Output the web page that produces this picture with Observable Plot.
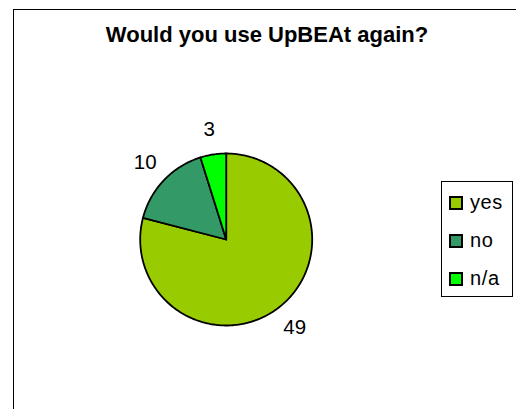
<!DOCTYPE html>
<html><head><meta charset="utf-8">
<script src="https://cdn.jsdelivr.net/npm/d3@7"></script>
<script src="https://cdn.jsdelivr.net/npm/@observablehq/plot@0.6"></script>
<style>
html,body{margin:0;padding:0;background:#fff;overflow:hidden;}
#wrap{position:relative;width:516px;height:409px;font-family:"Liberation Sans",Arial,sans-serif;}
#frame{position:absolute;left:13px;top:9px;width:600px;height:500px;border:1px solid #000;box-sizing:border-box;}
#title{position:absolute;left:0;width:534px;top:22px;text-align:center;font-weight:bold;font-size:22px;line-height:26px;color:#000;}
#chart{position:absolute;left:0;top:0;}
#legend{position:absolute;left:441px;top:181px;width:72px;height:116px;border:1px solid #000;box-sizing:border-box;background:#fff;}
.item{position:absolute;left:7px;height:20px;font-size:20px;line-height:20px;color:#000;letter-spacing:0.6px;}
.sw{position:absolute;left:0;top:3px;width:14px;height:14px;border:2px solid #000;box-sizing:border-box;}
.lab{position:absolute;left:21px;top:-1px;white-space:nowrap;}
</style></head>
<body><div id="wrap"><div id="frame"></div><div id="title">Would you use UpBEAt again?</div><div id="chart"></div><div id="legend"></div></div>
<script>
const categories = ["yes", "no", "n/a"];
const values = [49, 10, 3];
const colors = ["#99cc00", "#339966", "#00ff00"];

const cx = 225.7, cy = 239, r = 86;
const arcs = d3.pie().sort(null)(values);
const pts = [];
arcs.forEach((a, i) => {
  const cat = categories[i];
  pts.push({cat, x: 0, y: 0});
  const n = Math.max(2, Math.ceil((a.endAngle - a.startAngle) / (Math.PI / 180)));
  for (let k = 0; k <= n; k++) {
    const t = a.startAngle + (a.endAngle - a.startAngle) * k / n;
    pts.push({cat, x: Math.sin(t), y: Math.cos(t)});
  }
  pts.push({cat, x: 0, y: 0});
});
const labels = arcs.map((a, i) => {
  const m = (a.startAngle + a.endAngle) / 2;
  return {text: String(values[i]), x: 1.3 * Math.sin(m), y: 1.3 * Math.cos(m)};
});

const plot = Plot.plot({
  width: 516, height: 409, margin: 0,
  x: {domain: [-1, 1], range: [cx - r, cx + r], axis: null},
  y: {domain: [-1, 1], range: [cy + r, cy - r], axis: null},
  color: {domain: categories, range: colors},
  style: {background: "transparent", fontFamily: "Liberation Sans, Arial, sans-serif"},
  marks: [
    Plot.line(pts, {x: "x", y: "y", z: "cat", fill: "cat", stroke: "#000", strokeWidth: 1.8, strokeLinejoin: "round", curve: "linear"}),
    Plot.text(labels, {x: "x", y: "y", text: "text", fontSize: 20.5, fill: "#000"})
  ]
});
document.getElementById("chart").appendChild(plot);

const leg = document.getElementById("legend");
categories.forEach((c, i) => {
  const it = document.createElement("div");
  it.className = "item";
  it.style.top = (11 + i * 38) + "px";
  it.innerHTML = `<div class="sw" style="background:${colors[i]}"></div><div class="lab">${c}</div>`;
  leg.appendChild(it);
});
</script></body></html>
